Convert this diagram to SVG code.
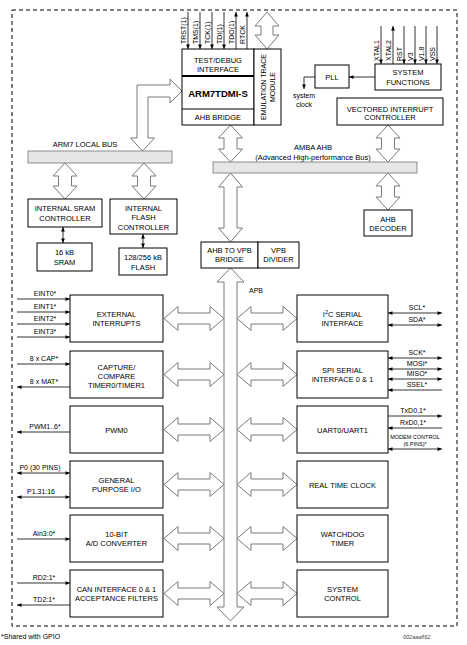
<svg xmlns="http://www.w3.org/2000/svg" xmlns:xlink="http://www.w3.org/1999/xlink" width="467" height="645" viewBox="0 0 467 645">
<style>
.box{fill:#fff;stroke:#000;stroke-width:1}
.t{font-family:"Liberation Sans",Arial,sans-serif;font-size:7.5px;fill:#000;text-anchor:middle}
.s{font-family:"Liberation Sans",Arial,sans-serif;font-size:7px;fill:#000;text-anchor:middle}
.r{font-family:"Liberation Sans",Arial,sans-serif;font-size:7px;fill:#000;text-anchor:start}
.da{fill:#fff;stroke:#7a7a7a;stroke-width:1}
.bus{fill:#e6e6e6;stroke:#8c8c8c;stroke-width:1}
.sig{stroke:#000;stroke-width:0.8;fill:none}
.dash{fill:none;stroke:#000;stroke-width:1;stroke-dasharray:4,3}
</style>
<defs>
<marker id="a" viewBox="0 0 6 6" refX="6" refY="3" markerWidth="5" markerHeight="4.5" markerUnits="userSpaceOnUse" orient="auto-start-reverse"><path d="M0,0.5 L6,3 L0,5.5 Z" fill="#000"/></marker>
<path id="hda" class="da" d="M-30,0 L-16,-12 L-16,-5.5 L16,-5.5 L16,-12 L30,0 L16,12 L16,5.5 L-16,5.5 L-16,12 Z"/>
</defs>
<rect class="dash" x="12" y="10" width="445" height="616"/>
<g id="connectors">
<path class="da" d="M142.5,151 L154.5,138 L148,138 L148,97 L170,97 L170,103 L182,91 L170,79 L170,85 L137,85 L137,138 L130.5,138 Z"/>
<path class="da" d="M267,12 L279,26 L273,26 L273,35 L279,35 L267,49 L255,35 L261,35 L261,26 L255,26 Z"/>
<path class="da" d="M230.5,125 L242.5,138 L237,138 L237,149 L242.5,149 L230.5,162 L218.5,149 L224,149 L224,138 L218.5,138 Z"/>
<path class="da" d="M388,125 L400,138 L394.5,138 L394.5,149 L400,149 L388,162 L376,149 L381.5,149 L381.5,138 L376,138 Z"/>
<path class="da" d="M388,173 L400,186 L394.5,186 L394.5,197 L400,197 L388,210 L376,197 L381.5,197 L381.5,186 L376,186 Z"/>
<path class="da" d="M230.5,173 L242.5,187 L237,187 L237,228 L242.5,228 L230.5,242 L218.5,228 L224,228 L224,187 L218.5,187 Z"/>
<path class="da" d="M65,163 L77,176 L71.5,176 L71.5,186 L77,186 L65,199 L53,186 L58.5,186 L58.5,176 L53,176 Z"/>
<path class="da" d="M144,163 L156,176 L150.5,176 L150.5,186 L156,186 L144,199 L132,186 L137.5,186 L137.5,176 L132,176 Z"/>
<path class="da" d="M230.5,268 L244,282 L237,282 L237,607 L244,607 L230.5,621 L217,607 L224,607 L224,282 L217,282 Z"/>
<use xlink:href="#hda" href="#hda" x="194" y="318.5"/>
<use xlink:href="#hda" href="#hda" x="194" y="374.5"/>
<use xlink:href="#hda" href="#hda" x="194" y="429.5"/>
<use xlink:href="#hda" href="#hda" x="194" y="484.5"/>
<use xlink:href="#hda" href="#hda" x="194" y="538.5"/>
<use xlink:href="#hda" href="#hda" x="194" y="593.5"/>
<use xlink:href="#hda" href="#hda" x="267" y="318.5"/>
<use xlink:href="#hda" href="#hda" x="267" y="374.5"/>
<use xlink:href="#hda" href="#hda" x="267" y="429.5"/>
<use xlink:href="#hda" href="#hda" x="267" y="484.5"/>
<use xlink:href="#hda" href="#hda" x="267" y="538.5"/>
<use xlink:href="#hda" href="#hda" x="267" y="593.5"/>
<line class="sig" x1="63" y1="227" x2="63" y2="243" marker-start="url(#a)" marker-end="url(#a)"/>
<line class="sig" x1="143" y1="234" x2="143" y2="248" marker-start="url(#a)" marker-end="url(#a)"/>
<line class="sig" x1="375" y1="77" x2="349" y2="77" marker-end="url(#a)"/>
<polyline class="sig" points="315,77 304,77 304,89" marker-end="url(#a)"/>
<line class="sig" x1="188" y1="12" x2="188" y2="49" marker-end="url(#a)"/>
<line class="sig" x1="200" y1="12" x2="200" y2="49" marker-end="url(#a)"/>
<line class="sig" x1="212" y1="12" x2="212" y2="49" marker-end="url(#a)"/>
<line class="sig" x1="224" y1="12" x2="224" y2="49" marker-end="url(#a)"/>
<line class="sig" x1="236" y1="49" x2="236" y2="12" marker-end="url(#a)"/>
<line class="sig" x1="247" y1="49" x2="247" y2="12" marker-end="url(#a)"/>
<line class="sig" x1="381" y1="26" x2="381" y2="64" marker-end="url(#a)"/>
<line class="sig" x1="393" y1="64" x2="393" y2="26" marker-end="url(#a)"/>
<line class="sig" x1="404" y1="26" x2="404" y2="64" marker-end="url(#a)"/>
<line class="sig" x1="415" y1="26" x2="415" y2="64" marker-end="url(#a)"/>
<line class="sig" x1="426" y1="26" x2="426" y2="64" marker-end="url(#a)"/>
<line class="sig" x1="437" y1="26" x2="437" y2="64" marker-end="url(#a)"/>
<line class="sig" x1="17" y1="299" x2="70" y2="299" marker-end="url(#a)"/>
<line class="sig" x1="17" y1="312" x2="70" y2="312" marker-end="url(#a)"/>
<line class="sig" x1="17" y1="324" x2="70" y2="324" marker-end="url(#a)"/>
<line class="sig" x1="17" y1="337" x2="70" y2="337" marker-end="url(#a)"/>
<line class="sig" x1="17" y1="364" x2="70" y2="364" marker-end="url(#a)"/>
<line class="sig" x1="70" y1="387" x2="17" y2="387" marker-end="url(#a)"/>
<line class="sig" x1="70" y1="432" x2="17" y2="432" marker-end="url(#a)"/>
<line class="sig" x1="17" y1="473" x2="70" y2="473" marker-start="url(#a)" marker-end="url(#a)"/>
<line class="sig" x1="17" y1="497" x2="70" y2="497" marker-start="url(#a)" marker-end="url(#a)"/>
<line class="sig" x1="17" y1="539" x2="70" y2="539" marker-end="url(#a)"/>
<line class="sig" x1="17" y1="583" x2="70" y2="583" marker-end="url(#a)"/>
<line class="sig" x1="70" y1="605" x2="17" y2="605" marker-end="url(#a)"/>
<line class="sig" x1="388" y1="313" x2="442" y2="313" marker-start="url(#a)" marker-end="url(#a)"/>
<line class="sig" x1="388" y1="325" x2="442" y2="325" marker-start="url(#a)" marker-end="url(#a)"/>
<line class="sig" x1="388" y1="358" x2="442" y2="358" marker-start="url(#a)" marker-end="url(#a)"/>
<line class="sig" x1="388" y1="369" x2="442" y2="369" marker-start="url(#a)" marker-end="url(#a)"/>
<line class="sig" x1="388" y1="379" x2="442" y2="379" marker-start="url(#a)" marker-end="url(#a)"/>
<line class="sig" x1="442" y1="390" x2="388" y2="390" marker-end="url(#a)"/>
<line class="sig" x1="388" y1="416" x2="442" y2="416" marker-end="url(#a)"/>
<line class="sig" x1="442" y1="428" x2="388" y2="428" marker-end="url(#a)"/>
<line class="sig" x1="388" y1="449" x2="442" y2="449" marker-start="url(#a)" marker-end="url(#a)"/>
</g>
<g id="labels">
<text class="r" transform="translate(186,44) rotate(-90)">TRST(1)</text>
<text class="r" transform="translate(198,44) rotate(-90)">TMS(1)</text>
<text class="r" transform="translate(210,44) rotate(-90)">TCK(1)</text>
<text class="r" transform="translate(222,44) rotate(-90)">TDI(1)</text>
<text class="r" transform="translate(234,44) rotate(-90)">TDO(1)</text>
<text class="r" transform="translate(245,44) rotate(-90)">RTCK</text>
<text class="r" transform="translate(379,61) rotate(-90)">XTAL1</text>
<text class="r" transform="translate(391,61) rotate(-90)">XTAL2</text>
<text class="r" transform="translate(402,61) rotate(-90)">RST</text>
<text class="r" transform="translate(413,61) rotate(-90)">V3</text>
<text class="r" transform="translate(424,61) rotate(-90)">V1.8</text>
<text class="r" transform="translate(435,61) rotate(-90)">VSS</text>
<text class="s" x="304" y="98">system</text>
<text class="s" x="304" y="107">clock</text>
<text class="t" x="85" y="146.5">ARM7 LOCAL BUS</text>
<text class="t" x="313" y="150">AMBA AHB</text>
<text class="t" x="313" y="159.5">(Advanced High-performance Bus)</text>
<text class="s" x="256" y="293">APB</text>
<text class="s" x="45" y="296">EINT0*</text>
<text class="s" x="45" y="309">EINT1*</text>
<text class="s" x="45" y="321">EINT2*</text>
<text class="s" x="45" y="334">EINT3*</text>
<text class="s" x="44" y="361">8 x CAP*</text>
<text class="s" x="44" y="384">8 x MAT*</text>
<text class="s" x="45" y="429">PWM1..6*</text>
<text class="s" x="40" y="470">P0 (30 PINS)</text>
<text class="s" x="41" y="494">P1.31:16</text>
<text class="s" x="44" y="536">Ain3:0*</text>
<text class="s" x="44" y="580">RD2:1*</text>
<text class="s" x="44" y="602">TD2:1*</text>
<text class="s" x="417" y="310">SCL*</text>
<text class="s" x="417" y="322">SDA*</text>
<text class="s" x="417" y="355">SCK*</text>
<text class="s" x="417" y="366">MOSI*</text>
<text class="s" x="417" y="376">MISO*</text>
<text class="s" x="417" y="387">SSEL*</text>
<text class="s" x="413" y="413">TxD0,1*</text>
<text class="s" x="413" y="425">RxD0,1*</text>
<text class="s" x="415" y="439" style="font-size:5.5px">MODEM CONTROL</text>
<text class="s" x="415" y="446" style="font-size:5.5px">(6 PINS)*</text>
<text class="s" x="1" y="639" style="text-anchor:start">*Shared with GPIO</text>
<text class="s" x="403" y="639" style="text-anchor:start;font-size:5.5px;font-style:italic;fill:#444">002aaa862</text>
</g>
<g id="cpu">
<rect class="box" x="182" y="49" width="72" height="76"/>
<line x1="182" y1="76" x2="254" y2="76" stroke="#000" stroke-width="2"/>
<line x1="182" y1="109" x2="254" y2="109" stroke="#000" stroke-width="1.2"/>
<text class="t" x="218" y="63">TEST/DEBUG</text>
<text class="t" x="218" y="72">INTERFACE</text>
<text class="t" x="218" y="96.5" style="font-size:9.5px;font-weight:bold">ARM7TDMI-S</text>
<text class="t" x="218" y="120">AHB BRIDGE</text>
</g>
<g id="emu">
<rect class="box" x="254" y="49" width="27" height="76"/>
<text class="t" transform="translate(265.5,87) rotate(-90)" style="font-size:7px">EMULATION TRACE</text>
<text class="t" transform="translate(274.5,87) rotate(-90)" style="font-size:7px">MODULE</text>
</g>
<g id="pll"><rect class="box" x="315" y="65" width="34" height="23"/><text class="t" x="332" y="79.5">PLL</text></g>
<g id="sysfunc"><rect class="box" x="375" y="64" width="66" height="26"/><text class="t" x="408" y="74.5">SYSTEM</text><text class="t" x="408" y="84.5">FUNCTIONS</text></g>
<g id="vic"><rect class="box" x="337" y="98" width="106" height="27"/><text class="t" x="390" y="111.5">VECTORED INTERRUPT</text><text class="t" x="390" y="120">CONTROLLER</text></g>
<g id="localbus"><rect class="bus" x="28" y="151" width="144" height="12"/></g>
<g id="ahbbus"><rect class="bus" x="213" y="162" width="204" height="11"/></g>
<g id="sramctrl"><rect class="box" x="28" y="199" width="74" height="28"/><text class="t" x="65" y="211">INTERNAL SRAM</text><text class="t" x="65" y="221">CONTROLLER</text></g>
<g id="flashctrl"><rect class="box" x="110" y="199" width="67" height="35"/><text class="t" x="143.5" y="211">INTERNAL</text><text class="t" x="143.5" y="220">FLASH</text><text class="t" x="143.5" y="229.5">CONTROLLER</text></g>
<g id="sram"><rect class="box" x="37" y="243" width="55" height="28"/><text class="t" x="64.5" y="255">16  kB</text><text class="t" x="64.5" y="265">SRAM</text></g>
<g id="flash"><rect class="box" x="119" y="248" width="48" height="27"/><text class="t" x="143" y="260">128/256 kB</text><text class="t" x="143" y="270">FLASH</text></g>
<g id="bridge"><rect class="box" x="201" y="242" width="57" height="26"/><text class="t" x="229.5" y="252.5">AHB TO VPB</text><text class="t" x="229.5" y="262">BRIDGE</text></g>
<g id="vpbdiv"><rect class="box" x="258" y="242" width="41" height="26"/><text class="t" x="278.5" y="252.5">VPB</text><text class="t" x="278.5" y="262">DIVIDER</text></g>
<g id="ahbdec"><rect class="box" x="364" y="210" width="48" height="26"/><text class="t" x="388" y="222">AHB</text><text class="t" x="388" y="231">DECODER</text></g>
<g id="extint"><rect class="box" x="70" y="295" width="93" height="47"/><text class="t" x="116.5" y="316.5">EXTERNAL</text><text class="t" x="116.5" y="325.5">INTERRUPTS</text></g>
<g id="capture"><rect class="box" x="70" y="351" width="93" height="47"/><text class="t" x="116.5" y="369.5">CAPTURE/</text><text class="t" x="116.5" y="378.5">COMPARE</text><text class="t" x="116.5" y="387.5">TIMER0/TIMER1</text></g>
<g id="pwm"><rect class="box" x="70" y="406" width="93" height="47"/><text class="t" x="116.5" y="432.5">PWM0</text></g>
<g id="gpio"><rect class="box" x="70" y="461" width="93" height="47"/><text class="t" x="116.5" y="482.5">GENERAL</text><text class="t" x="116.5" y="491.5">PURPOSE I/O</text></g>
<g id="adc"><rect class="box" x="70" y="515" width="93" height="47"/><text class="t" x="116.5" y="536.5">10-BIT</text><text class="t" x="116.5" y="545.5">A/D CONVERTER</text></g>
<g id="can"><rect class="box" x="70" y="570" width="93" height="47"/><text class="t" x="116.5" y="591.5">CAN INTERFACE 0 &amp; 1</text><text class="t" x="116.5" y="600.5">ACCEPTANCE FILTERS</text></g>
<g id="i2c"><rect class="box" x="297" y="295" width="91" height="47"/><text class="t" x="342.5" y="316.5">I<tspan baseline-shift="super" style="font-size:5.5px">2</tspan>C SERIAL</text><text class="t" x="342.5" y="325.5">INTERFACE</text></g>
<g id="spi"><rect class="box" x="297" y="351" width="91" height="47"/><text class="t" x="342.5" y="372.5">SPI SERIAL</text><text class="t" x="342.5" y="381.5">INTERFACE 0 &amp; 1</text></g>
<g id="uart"><rect class="box" x="297" y="406" width="91" height="47"/><text class="t" x="342.5" y="432.5">UART0/UART1</text></g>
<g id="rtc"><rect class="box" x="297" y="461" width="91" height="47"/><text class="t" x="342.5" y="487.5">REAL TIME CLOCK</text></g>
<g id="wdt"><rect class="box" x="297" y="515" width="91" height="47"/><text class="t" x="342.5" y="536.5">WATCHDOG</text><text class="t" x="342.5" y="545.5">TIMER</text></g>
<g id="sysctrl"><rect class="box" x="297" y="570" width="91" height="47"/><text class="t" x="342.5" y="591.5">SYSTEM</text><text class="t" x="342.5" y="600.5">CONTROL</text></g>
</svg>
